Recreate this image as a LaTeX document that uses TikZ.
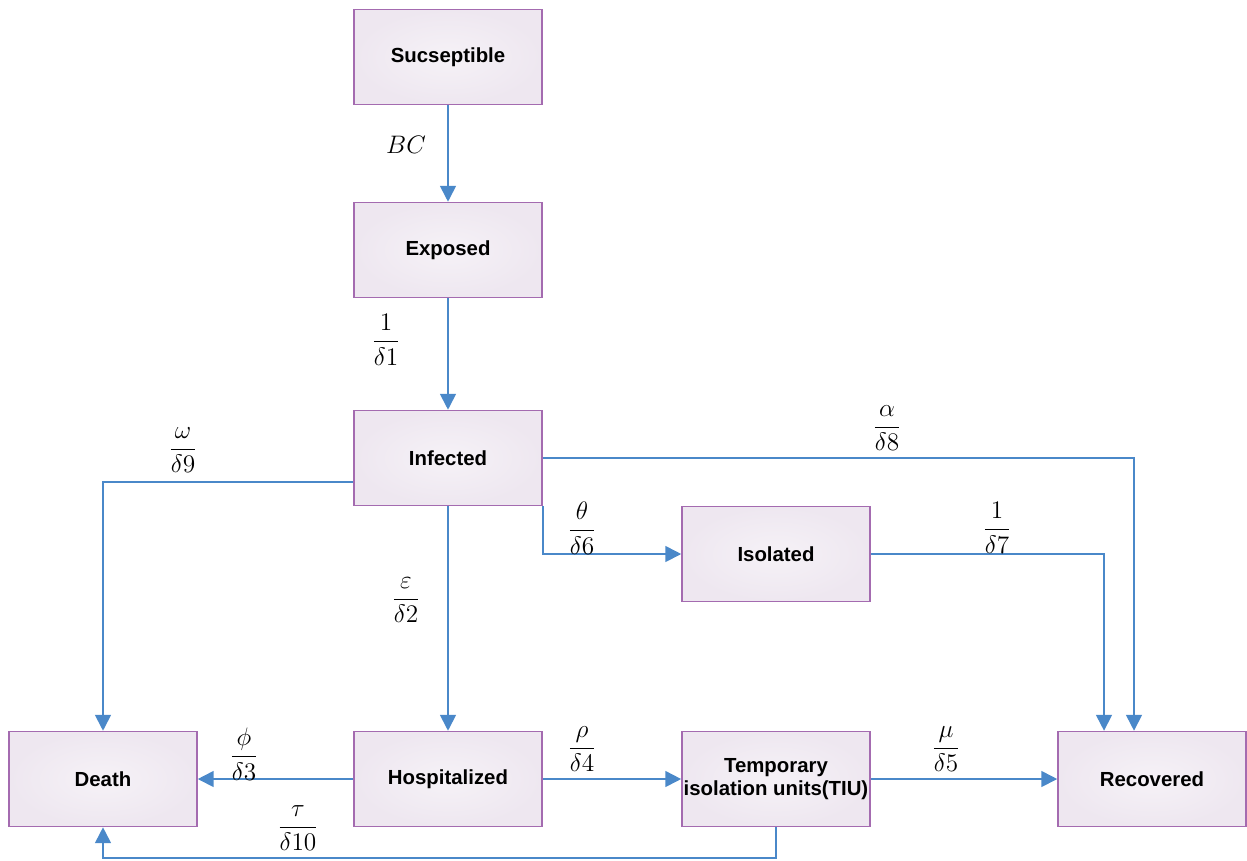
\documentclass[tikz,border=0pt]{standalone}
\usepackage{fontspec}
\setsansfont{Liberation Sans}
\usetikzlibrary{arrows.meta}
\definecolor{boxline}{HTML}{A46BB0}
\definecolor{boxfill}{HTML}{EEE7F0}
\definecolor{arr}{HTML}{4A88C9}
\tikzset{
  px/.style={x=0.02cm,y=-0.02cm},
  stage/.style={draw=boxline, line width=0.9pt, inner color=boxfill!55!white, outer color=boxfill, minimum width=3.76cm, minimum height=1.9cm, inner sep=1pt, font=\sffamily\bfseries\fontsize{11.6}{13.5}\selectfont, align=center},
  flow/.style={draw=arr, line width=1pt, -{Triangle[length=9pt,width=9pt]}},
  rate/.style={font=\fontsize{14}{16}\selectfont, inner sep=0pt}
}
\begin{document}
\begin{tikzpicture}[px]
\useasboundingbox (0,0) rectangle (1247,860);
\node[stage] (S) at (448,57) {Sucseptible};
\node[stage] (E) at (448,250) {Exposed};
\node[stage] (I) at (448,458) {Infected};
\node[stage] (Q) at (776,554) {Isolated};
\node[stage] (D) at (103,779) {Death};
\node[stage] (H) at (448,779) {Hospitalized};
\node[stage] (T) at (776,779) {Temporary\\isolation units(TIU)};
\node[stage] (R) at (1152,779) {Recovered};

\draw[flow] (S) -- (E);
\draw[flow] (E) -- (I);
\draw[flow] (I) -- (H);
\draw[flow] (H) -- (D);
\draw[flow] (H) -- (T);
\draw[flow] (T) -- (R);
\draw[flow] (I.west |- 0,482) -| (D.north);
\draw[flow] (I.east) -| ([xshift=-0.36cm]R.north);
\draw[flow] (I.south east) |- (Q.west);
\draw[flow] (Q.east) -| ([xshift=-0.96cm]R.north);
\draw[flow] (T.south) -- ++(0,31) -| (D.south);

\node[rate] (lBC) at (406,145) {$BC$};
\node[rate] (l1) at (386,340) {$\displaystyle\frac{1}{\delta1}$};
\node[rate] (l9) at (183,450) {$\displaystyle\frac{\omega}{\delta9}$};
\node[rate] (l8) at (887,428) {$\displaystyle\frac{\alpha}{\delta8}$};
\node[rate] (l6) at (582,528) {$\displaystyle\frac{\theta}{\delta6}$};
\node[rate] (l7) at (997,528) {$\displaystyle\frac{1}{\delta7}$};
\node[rate] (l2) at (406,600) {$\displaystyle\frac{\varepsilon}{\delta2}$};
\node[rate] (l3) at (244,754) {$\displaystyle\frac{\phi}{\delta3}$};
\node[rate] (l4) at (582,749) {$\displaystyle\frac{\rho}{\delta4}$};
\node[rate] (l5) at (946,749) {$\displaystyle\frac{\mu}{\delta5}$};
\node[rate] (l10) at (298,828) {$\displaystyle\frac{\tau}{\delta10}$};
\end{tikzpicture}
\end{document}
